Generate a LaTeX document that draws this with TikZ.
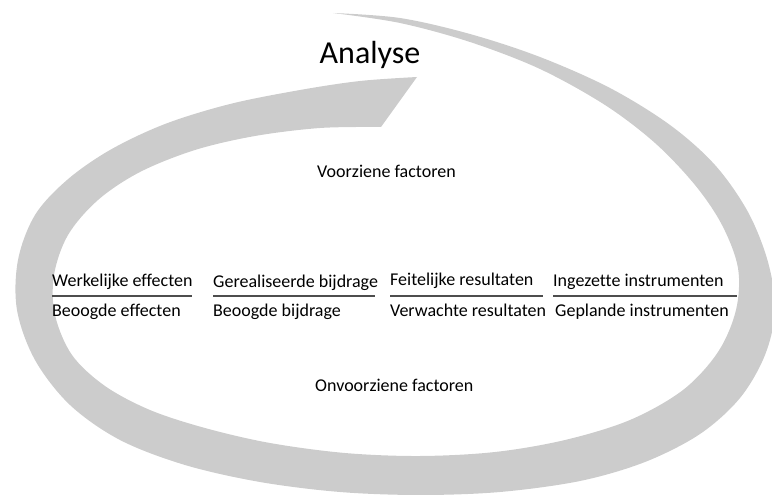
\documentclass[tikz,border=0pt]{standalone}
\usepackage{fontspec}
\setmainfont{Carlito}[Ligatures=NoCommon]
\definecolor{bandgray}{HTML}{CCCCCC}
\definecolor{rulegray}{HTML}{4D4D4D}
\begin{document}
\begin{tikzpicture}[x=1pt,y=-1pt,
  band/.style={fill=bandgray},
  lbl/.style={font=\fontsize{18}{21}\selectfont, inner sep=0pt, anchor=base west},
  title/.style={font=\fontsize{32}{36}\selectfont, inner sep=0pt, anchor=base},
  fracbar/.style={draw=rulegray, line width=2pt}]
\useasboundingbox (0,0) rectangle (772,495);
\clip (0,0) rectangle (772,495);

% the looping band: outer edge from the thin tail round to the cut end,
% then the inner edge back to the tail
\fill[band]
  plot[smooth, tension=0.55] coordinates {
    (333,13) (400,18) (470,34) (540,57) (610,88) (670,125) (715,165)
    (748,212) (768,262) (775,310) (765,355) (740,398) (700,434)
    (645,462) (580,481) (500,492) (420,495) (340,492) (260,482)
    (185,465) (120,440) (70,405) (35,360) (17,310) (18,260) (35,215)
    (67,180) (110,150) (165,124) (230,104) (300,90) (360,81) (417,77)}
  -- (381,127)
  -- plot[smooth, tension=0.55] coordinates {
    (381,127) (320,128) (255,136) (195,150) (140,172) (98,200) (68,235)
    (54,275) (55,315) (72,355) (105,386) (150,410) (205,428) (270,443)
    (345,453) (420,456) (495,452) (565,440) (630,420) (683,390)
    (718,352) (736,310) (738,268) (722,225) (695,185) (655,143)
    (605,105) (540,69) (470,42) (400,23) (333,13)}
  -- cycle;

% headings
\node[title] (analyse) at (370,64) {Analyse};
\node[lbl] (voorzien) at (317,177) {Voorziene factoren};
\node[lbl] (onvoorzien) at (315,391) {Onvoorziene factoren};

% realised over planned, four pairs
\node[lbl] (werk) at (52,286) {Werkelijke effecten};
\node[lbl] (beoogdeff) at (52,316) {Beoogde effecten};
\draw[fracbar] (52,296) -- (192,296);

\node[lbl] (gereal) at (213,287) {Gerealiseerde bijdrage};
\node[lbl] (beoogdbij) at (213,316) {Beoogde bijdrage};
\draw[fracbar] (213,296) -- (375,296);

\node[lbl] (feit) at (390,285) {Feitelijke resultaten};
\node[lbl] (verw) at (390,316) {Verwachte resultaten};
\draw[fracbar] (390,296) -- (543,296);

\node[lbl] (ingez) at (553,286) {Ingezette instrumenten};
\node[lbl] (gepl) at (555,316) {Geplande instrumenten};
\draw[fracbar] (553,296) -- (737,296);
\end{tikzpicture}
\end{document}
